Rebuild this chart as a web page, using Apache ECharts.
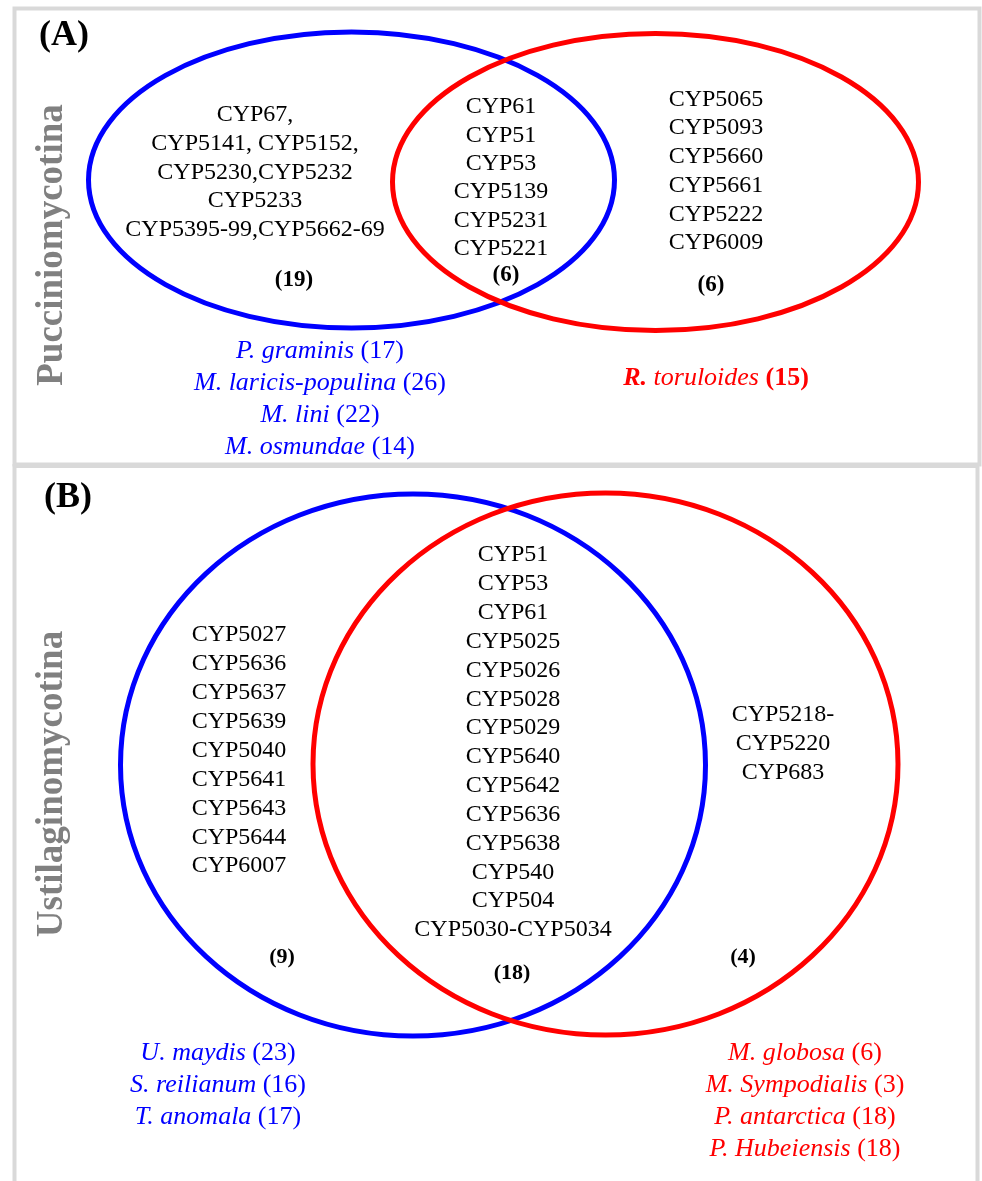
<!DOCTYPE html>
<html><head><meta charset="utf-8">
<script src="https://cdn.jsdelivr.net/npm/echarts@6/dist/echarts.min.js"></script>
<style>html,body{margin:0;padding:0;background:#fff}#c{width:982px;height:1181px}</style>
</head><body><div id="c"></div><script>
// ---------------- DATA ----------------
const panelTitles = ["(A)", "(B)"];
const subphyla = ["Pucciniomycotina", "Ustilaginomycotina"];

const panelA_leftOnly = ["CYP67,", "CYP5141, CYP5152,", "CYP5230,CYP5232", "CYP5233", "CYP5395-99,CYP5662-69"];
const panelA_shared = ["CYP61", "CYP51", "CYP53", "CYP5139", "CYP5231", "CYP5221"];
const panelA_rightOnly = ["CYP5065", "CYP5093", "CYP5660", "CYP5661", "CYP5222", "CYP6009"];
const panelA_counts = [19, 6, 6]; // left only, shared, right only
const panelA_leftSpecies = ["P. graminis", "M. laricis-populina", "M. lini", "M. osmundae"];
const panelA_leftSpeciesCounts = [17, 26, 22, 14];
const panelA_rightSpecies = ["R. toruloides"];
const panelA_rightSpeciesCounts = [15];

const panelB_leftOnly = ["CYP5027", "CYP5636", "CYP5637", "CYP5639", "CYP5040", "CYP5641", "CYP5643", "CYP5644", "CYP6007"];
const panelB_shared = ["CYP51", "CYP53", "CYP61", "CYP5025", "CYP5026", "CYP5028", "CYP5029", "CYP5640", "CYP5642", "CYP5636", "CYP5638", "CYP540", "CYP504", "CYP5030-CYP5034"];
const panelB_rightOnly = ["CYP5218-", "CYP5220", "CYP683"];
const panelB_counts = [9, 18, 4];
const panelB_leftSpecies = ["U. maydis", "S. reilianum", "T. anomala"];
const panelB_leftSpeciesCounts = [23, 16, 17];
const panelB_rightSpecies = ["M. globosa", "M. Sympodialis", "P. antarctica", "P. Hubeiensis"];
const panelB_rightSpeciesCounts = [6, 3, 18, 18];

// ---------------- LAYOUT (pixel-space coordinates of the hidden axes) ----------------
const W = 982, H = 1181;
const BLUE = '#0000ff', RED = '#ff0000', GRAY = '#808080', BORDER = '#d9d9d9';
const FONT = "'Liberation Serif', 'Times New Roman', Times, serif";

const layout = {
  A: {
    setL: {cx: 351.5, cy: 180, rx: 263, ry: 148},
    setR: {cx: 655.5, cy: 182, rx: 263, ry: 148.5},
    leftList: {x: 255, y: 115, dy: 28.7},
    sharedList: {x: 501, y: 107, dy: 28.4},
    rightList: {x: 716, y: 99.5, dy: 28.7},
    counts: [{x: 294, y: 280}, {x: 506, y: 275}, {x: 711, y: 285}],
    leftSpecies: {x: 320, y: 351, dy: 32},
    rightSpecies: {x: 716, y: 378, dy: 32},
    side: {x: 52, y: 245},
    title: {x: 64, y: 36},
    listSize: 24, countSize: 23, speciesSize: 26
  },
  B: {
    setL: {cx: 413, cy: 765, rx: 292.5, ry: 271},
    setR: {cx: 605.5, cy: 764, rx: 292.5, ry: 271},
    leftList: {x: 239, y: 635, dy: 28.9},
    sharedList: {x: 513, y: 555, dy: 28.85},
    rightList: {x: 783, y: 715, dy: 29},
    counts: [{x: 282, y: 957}, {x: 512, y: 973}, {x: 743, y: 957}],
    leftSpecies: {x: 218, y: 1053, dy: 32.2},
    rightSpecies: {x: 805, y: 1053, dy: 32.2},
    side: {x: 52, y: 784},
    title: {x: 68, y: 498},
    listSize: 24, countSize: 22, speciesSize: 26
  }
};

// ---------------- BUILD SERIES DATA ----------------
const ellipses = []; // [cx, cy, rx, ry, colorIdx]
const texts = [];    // {x, y, style}

function addPanel(L, idx, leftOnly, shared, rightOnly, counts, lSp, lSpC, rSp, rSpC) {
  ellipses.push([L.setL.cx, L.setL.cy, L.setL.rx, L.setL.ry, 0]);
  ellipses.push([L.setR.cx, L.setR.cy, L.setR.rx, L.setR.ry, 1]);
  const listStyle = {font: L.listSize + 'px ' + FONT, fill: '#000'};
  [[leftOnly, L.leftList], [shared, L.sharedList], [rightOnly, L.rightList]].forEach(([arr, p]) => {
    arr.forEach((t, i) => texts.push({x: p.x, y: p.y + i * p.dy, style: Object.assign({text: t}, listStyle)}));
  });
  counts.forEach((c, i) => texts.push({x: L.counts[i].x, y: L.counts[i].y,
    style: {text: '(' + c + ')', font: 'bold ' + L.countSize + 'px ' + FONT, fill: '#000'}}));
  const sz = L.speciesSize;
  lSp.forEach((s, i) => texts.push({x: L.leftSpecies.x, y: L.leftSpecies.y + i * L.leftSpecies.dy,
    style: {text: '{i|' + s + '}{n| (' + lSpC[i] + ')}', fill: BLUE,
      rich: {i: {font: 'italic ' + sz + 'px ' + FONT, fill: BLUE}, n: {font: sz + 'px ' + FONT, fill: BLUE}}}}));
  rSp.forEach((s, i) => {
    let txt;
    if (idx === 0) {
      const parts = s.split(' ');
      txt = '{bi|' + parts[0] + '}{i| ' + parts.slice(1).join(' ') + '}{b| (' + rSpC[i] + ')}';
    } else {
      txt = '{i|' + s + '}{n| (' + rSpC[i] + ')}';
    }
    texts.push({x: L.rightSpecies.x, y: L.rightSpecies.y + i * L.rightSpecies.dy,
      style: {text: txt, fill: RED, rich: {
        i: {font: 'italic ' + sz + 'px ' + FONT, fill: RED},
        bi: {font: 'italic bold ' + sz + 'px ' + FONT, fill: RED},
        b: {font: 'bold ' + sz + 'px ' + FONT, fill: RED},
        n: {font: sz + 'px ' + FONT, fill: RED}}}});
  });
  texts.push({x: L.side.x, y: L.side.y, rotation: Math.PI / 2,
    style: {text: subphyla[idx], font: 'bold 37px ' + FONT, fill: GRAY}});
  texts.push({x: L.title.x, y: L.title.y,
    style: {text: panelTitles[idx], font: 'bold 36px ' + FONT, fill: '#000'}});
}
addPanel(layout.A, 0, panelA_leftOnly, panelA_shared, panelA_rightOnly, panelA_counts,
  panelA_leftSpecies, panelA_leftSpeciesCounts, panelA_rightSpecies, panelA_rightSpeciesCounts);
addPanel(layout.B, 1, panelB_leftOnly, panelB_shared, panelB_rightOnly, panelB_counts,
  panelB_leftSpecies, panelB_leftSpeciesCounts, panelB_rightSpecies, panelB_rightSpeciesCounts);

const setColors = [BLUE, RED];

const chart = echarts.init(document.getElementById('c'), null, {renderer: 'canvas'});
chart.setOption({
  animation: false,
  backgroundColor: '#fff',
  grid: {left: 0, right: 0, top: 0, bottom: 0},
  xAxis: {type: 'value', min: 0, max: W, show: false},
  yAxis: {type: 'value', min: 0, max: H, inverse: true, show: false},
  graphic: [
    {type: 'rect', shape: {x: 14.5, y: 8.5, width: 965, height: 456}, style: {fill: 'none', stroke: BORDER, lineWidth: 4}},
    {type: 'rect', shape: {x: 14.5, y: 466, width: 963, height: 760}, style: {fill: 'none', stroke: BORDER, lineWidth: 4}}
  ],
  series: [
    {
      type: 'custom', coordinateSystem: 'cartesian2d', silent: true,
      data: ellipses,
      renderItem: (params, api) => {
        const c = api.coord([api.value(0), api.value(1)]);
        const s = api.size([api.value(2), api.value(3)]);
        return {type: 'ellipse', shape: {cx: c[0], cy: c[1], rx: s[0], ry: s[1]},
          style: {fill: 'none', stroke: setColors[api.value(4)], lineWidth: 5}};
      }
    },
    {
      type: 'custom', coordinateSystem: 'cartesian2d', silent: true,
      data: texts.map((t, i) => [t.x, t.y, i]),
      renderItem: (params, api) => {
        const t = texts[api.value(2)];
        const c = api.coord([api.value(0), api.value(1)]);
        return {type: 'text', x: c[0], y: c[1], rotation: t.rotation || 0,
          style: Object.assign({align: 'center', verticalAlign: 'middle'}, t.style)};
      }
    }
  ]
});
</script></body></html>
